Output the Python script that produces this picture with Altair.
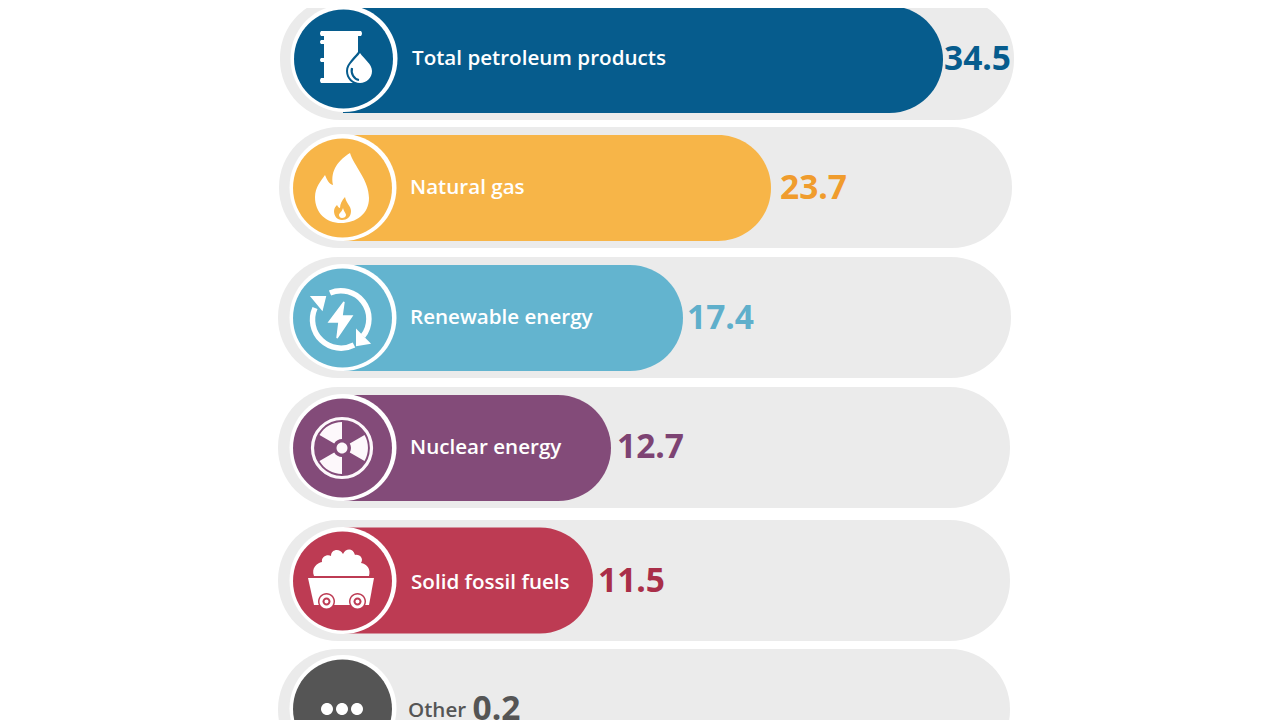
import math
import altair as alt
import pandas as pd

# ---- data ----
categories = ["Total petroleum products", "Natural gas", "Renewable energy",
              "Nuclear energy", "Solid fossil fuels", "Other"]
values = [34.5, 23.7, 17.4, 12.7, 11.5, 0.2]
bar_colors = ["#065c8d", "#f7b548", "#63b4cf", "#834b79", "#bd3b53", "#555555"]
value_colors = ["#065c8d", "#f09c2d", "#5fafcb", "#7d4373", "#a92e48", "#555555"]

# ---- layout (page pixels) ----
M = 8
track_tops = [-2, 127, 257, 387, 520, 649]
track_bottoms = [120, 248, 378, 508, 641, 770]
track_lefts = [280, 279, 278, 278, 278, 278]
track_rights = [1014, 1012, 1011, 1010, 1010, 1010]
bar_tops = [6, 135, 265, 395, 527.5, 660]
bar_bottoms = [113, 241, 371, 501, 633.5, 760]
icon_x = [343, 342, 342, 342, 342, 342]
icon_y = [59, 188, 318, 448, 581, 709]
label_x = [412, 410, 410, 410, 411, 408]
label_y = [59, 188, 318, 448, 583, 711]
value_y = [60, 189, 319, 448, 582, 710]
value_dx = [1, 9, 4, 6, 5, 49]

scale_domain = [11.5, 12.7, 17.4, 23.7, 34.5]
scale_range = [593 - M, 611 - M, 683 - M, 771 - M, 943 - M]
x_scale = alt.Scale(domain=scale_domain, range=scale_range, clamp=False, nice=False, zero=False)
X = alt.X("value:Q", scale=x_scale, axis=None)


def circ(cx, cy, r):
    return f"M{cx-r},{cy} A{r},{r} 0 1 0 {cx+r},{cy} A{r},{r} 0 1 0 {cx-r},{cy} Z"


def blade(deg):
    pts = []
    for r, a in [(9, -30), (26, -30), (26, 30), (9, 30)]:
        t = math.radians(a + deg)
        pts.append((round(r * math.cos(t), 2), round(r * math.sin(t), 2)))
    (a, b), (c, d), (e, f), (g, h) = pts
    return f"M{a},{b} L{c},{d} A26,26 0 0 1 {e},{f} L{g},{h} A9,9 0 0 0 {a},{b} Z"


W = "#ffffff"
# (path, fill, stroke, stroke width); coordinates in px around the icon's centre
icons = [
    [
        ("M-22,-28 H18 Q20,-25.5 18,-23 H15 V24 H-22 Q-24,21.5 -22,19 H-19 V3 H-22 Q-24,1 -22,-1 H-19 "
         "V-15 H-22 Q-24,-17 -22,-19 H-19 V-23 H-22 Q-24,-25.5 -22,-28 Z", W, None, 0),
        ("M17,-10 C22,-2 31,4 31,12 A14,14 0 0 1 3,12 C3,4 12,-2 17,-10 Z", bar_colors[0], None, 0),
        ("M17,-6 C21,0 29,5 29,12 A12,12 0 0 1 5,12 C5,5 13,0 17,-6 Z", W, None, 0),
        ("M9,9 A8.5,9.5 0 0 0 16,21", None, bar_colors[0], 2.2),
    ],
    [
        ("M8,-35 C12,-22 27,-8 27,10 C27,26 14,35 -1,35 C-16,35 -27,25 -27,9 C-27,-1 -21,-7 -17,-13 "
         "C-15,-8 -13,-4 -9,-3 C-12,-18 -3,-28 8,-35 Z", W, None, 0),
        ("M3,9 C4,15 9,18 9,23 C9,29 5,32 0,32 C-5,32 -8,28 -8,23 C-8,20 -6,18 -5,17 C-4,19 -3,20 -2,20 "
         "C-2,16 0,12 3,9 Z", bar_colors[1], None, 0),
        ("M1,20 C2,24 4,25 4,27 C4,29 2,30 0,30 C-2,30 -3,28 -3,27 C-3,25 0,24 1,20 Z", W, None, 0),
    ],
    [
        ("M-12,-25 A28,28 0 0 1 21,18", None, W, 5.5),
        ("M12,27 A28.5,28.5 0 0 1 -27,-10", None, W, 5.5),
        ("M15,13 L27,25 L15,27 Z", W, W, 2),
        ("M-30,-21 L-17,-21 L-20,-9 Z", W, W, 2),
        ("M2,-16 L-13,4 L-3,4 L-5,20 L10,-2 L0,-2 Z", W, W, 1.5),
    ],
    [
        (circ(0, 0, 29.5), None, "#fdf8fb", 3.2),
        (circ(0, 0, 5.5), "#fdf8fb", None, 0),
        (blade(0), "#fdf8fb", None, 0),
        (blade(120), "#fdf8fb", None, 0),
        (blade(240), "#fdf8fb", None, 0),
    ],
    [
        ("M-28,-5 C-31,-13 -25,-18 -20,-19 C-21,-25 -14,-27 -11,-25 C-11,-32 -2,-33 1,-27 C4,-33 11,-33 13,-26 "
         "C18,-27 22,-22 19,-18 C25,-17 29,-12 27,-5 Z", W, None, 0),
        ("M-34,-3 H32 L27,24 H-28 Z", W, None, 0),
        (circ(-15.5, 20.5, 8.5), bar_colors[4], None, 0),
        (circ(15.5, 20.5, 8.5), bar_colors[4], None, 0),
        (circ(-15.5, 20.5, 7), W, None, 0),
        (circ(15.5, 20.5, 7), W, None, 0),
        (circ(-15.5, 20.5, 4), bar_colors[4], None, 0),
        (circ(15.5, 20.5, 4), bar_colors[4], None, 0),
        (circ(-15.5, 20.5, 2), W, None, 0),
        (circ(15.5, 20.5, 2), W, None, 0),
    ],
    [
        (circ(-15, 0, 6), W, None, 0),
        (circ(0, 0, 6), W, None, 0),
        (circ(15, 0, 6), W, None, 0),
    ],
]


def glyph(df, path, cx, cy, fill=None, stroke=None, sw=0):
    kw = dict(shape=path, size=4, opacity=1, clip=False)
    if fill:
        kw.update(filled=True, fill=fill)
    else:
        kw.update(filled=False, fill="transparent")
    if stroke:
        kw.update(stroke=stroke, strokeWidth=sw)
    else:
        kw.update(strokeWidth=0)
    return alt.Chart(df).mark_point(**kw).encode(x=alt.value(cx - M), y=alt.value(cy - M))


layers = []
for i, (cat, val) in enumerate(zip(categories, values)):
    df = pd.DataFrame({"category": [cat], "value": [val]})
    # track
    layers.append(
        alt.Chart(df).mark_rect(color="#ebebeb", cornerRadius=60).encode(
            x=alt.value(track_lefts[i] - M), x2=alt.value(track_rights[i] - M),
            y=alt.value(track_tops[i] - M), y2=alt.value(track_bottoms[i] - M))
    )
    # value bar
    if val > 1:
        r = (bar_bottoms[i] - bar_tops[i]) / 2
        layers.append(
            alt.Chart(df).mark_rect(color=bar_colors[i], cornerRadiusTopRight=r, cornerRadiusBottomRight=r).encode(
                x=X, x2=alt.value(icon_x[i] - M),
                y=alt.value(bar_tops[i] - M), y2=alt.value(bar_bottoms[i] - M))
        )
    # icon disc with white ring
    layers.append(glyph(df, circ(0, 0, 53.5), icon_x[i] + 1, icon_y[i] - 0.5, fill=W))
    layers.append(glyph(df, circ(0, 0, 49.5), icon_x[i] + 0.5, icon_y[i], fill=bar_colors[i]))
    for path, fill, stroke, sw in icons[i]:
        layers.append(glyph(df, path, icon_x[i], icon_y[i], fill, stroke, sw))
    # category label
    layers.append(
        alt.Chart(df).mark_text(align="left", baseline="middle", font="Open Sans", fontSize=20.6, fontWeight=600,
                                color="#ffffff" if val > 1 else "#555555").encode(
            x=alt.value(label_x[i] - M), y=alt.value(label_y[i] - M), text="category:N")
    )
    # value label
    layers.append(
        alt.Chart(df).mark_text(align="left", baseline="middle", font="Open Sans", fontSize=33.5, fontWeight=700,
                                color=value_colors[i], dx=value_dx[i]).encode(
            x=X, y=alt.value(value_y[i] - M), text=alt.Text("value:Q", format=".1f"))
    )

chart = (
    alt.layer(*layers)
    .properties(width=1200, height=712, padding=0, background="#ffffff",
                view=alt.ViewBackground(stroke="transparent", strokeWidth=0),
                autosize=alt.AutoSizeParams(type="none"))
    .configure_view(stroke="transparent", strokeWidth=0)
)
chart.save("out.html", embed_options={"renderer": "svg", "actions": False})
